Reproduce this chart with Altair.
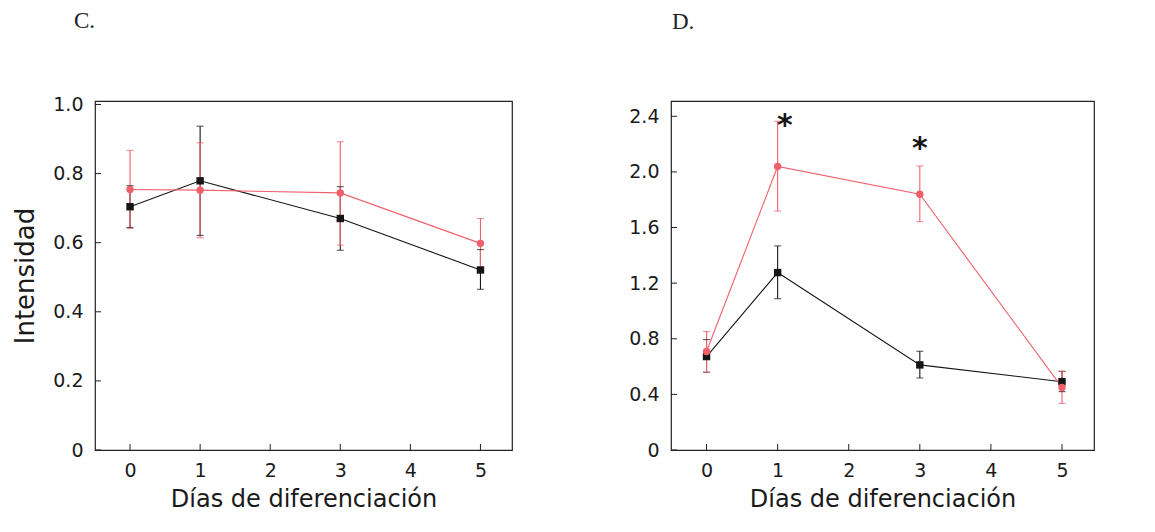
import altair as alt
import pandas as pd

days = [0, 1, 3, 5]

# Panel C
c_black = [0.704, 0.779, 0.670, 0.521]
c_black_lo = [0.644, 0.621, 0.578, 0.465]
c_black_hi = [0.765, 0.937, 0.762, 0.580]
c_red = [0.754, 0.752, 0.744, 0.598]
c_red_lo = [0.641, 0.614, 0.593, 0.526]
c_red_hi = [0.867, 0.889, 0.892, 0.670]

# Panel D
d_black = [0.672, 1.276, 0.612, 0.491]
d_black_lo = [0.559, 1.088, 0.518, 0.420]
d_black_hi = [0.794, 1.468, 0.710, 0.566]
d_red = [0.708, 2.039, 1.839, 0.450]
d_red_lo = [0.559, 1.718, 1.642, 0.335]
d_red_hi = [0.852, 2.364, 2.043, 0.566]

star_x = [1.1, 3.0]
star_y = [2.37, 2.21]

x_ticks = [0, 1, 2, 3, 4, 5]
c_y_ticks = [0, 0.2, 0.4, 0.6, 0.8, 1.0]
d_y_ticks = [0, 0.4, 0.8, 1.2, 1.6, 2.0, 2.4]

RED = "#f0343f"
RED_LINE = "#f0606c"
BLACK = "#151515"
LABEL_FONT = "DejaVu Sans"
TITLE_FONT = "DejaVu Sans"


def frame(b, bl, bh, r, rl, rh):
    rows = []
    for i, d in enumerate(days):
        rows.append(dict(day=d, v=b[i], lo=bl[i], hi=bh[i], s="control"))
        rows.append(dict(day=d, v=r[i], lo=rl[i], hi=rh[i], s="tratado"))
    return pd.DataFrame(rows)


def panel(df, ymax, yticks, letter, width, height, ytitle, show_stars, tdx, toff):
    xs = alt.Scale(domain=[-0.5, 5.45], nice=False, zero=False)
    ys = alt.Scale(domain=[0, ymax], nice=False)
    color = alt.Color("s:N", scale=alt.Scale(domain=["control", "tratado"], range=[BLACK, RED]), legend=None)
    line_color = alt.Color("s:N", scale=alt.Scale(domain=["control", "tratado"], range=[BLACK, RED_LINE]), legend=None)
    yaxis_kw = dict(
        values=yticks, ticks=False, grid=False, domain=False,
        labelFont=LABEL_FONT, labelFontSize=19, labelColor="#1a1a1a", labelPadding=12,
        labelExpr="datum.value == 0 ? '0' : format(datum.value, '.1f')",
    )
    if ytitle:
        yaxis = alt.Axis(title=ytitle, titleFont=TITLE_FONT, titleFontSize=26,
                         titleFontWeight="normal", titleColor="#1a1a1a", titlePadding=14, **yaxis_kw)
    else:
        yaxis = alt.Axis(title=None, **yaxis_kw)
    xaxis = alt.Axis(values=x_ticks, ticks=False, grid=False, domain=False, format="d",
                     labelFont=LABEL_FONT, labelFontSize=19, labelColor="#1a1a1a", labelPadding=11,
                     title="Días de diferenciación", titleFont=TITLE_FONT, titleFontSize=24,
                     titleFontWeight="normal", titleColor="#1a1a1a", titlePadding=7)

    def X(f):
        return alt.X(f, scale=xs, axis=xaxis, title="Días de diferenciación")

    def Y(f):
        return alt.Y(f, scale=ys, axis=yaxis, title=ytitle if ytitle else None)

    base = alt.Chart(df)
    lines = base.mark_line(strokeWidth=1.1).encode(
        x=X("day:Q"), y=Y("v:Q"), color=line_color, detail="s:N",
    )
    bars = base.mark_rule(strokeWidth=1.1).encode(
        x=X("day:Q"), y=Y("lo:Q"), y2="hi:Q", color=color
    )
    caps_lo = base.mark_tick(orient="horizontal", size=7, thickness=1.1).encode(
        x=X("day:Q"), y=Y("lo:Q"), color=color
    )
    caps_hi = base.mark_tick(orient="horizontal", size=7, thickness=1.1).encode(
        x=X("day:Q"), y=Y("hi:Q"), color=color
    )
    pts = base.mark_point(filled=True, opacity=1, size=55).encode(
        x=X("day:Q"), y=Y("v:Q"), color=color,
        shape=alt.Shape("s:N", scale=alt.Scale(domain=["control", "tratado"], range=["square", "circle"]), legend=None),
    )
    xt = alt.Chart(pd.DataFrame({"t": x_ticks})).mark_rule(color="#222", strokeWidth=1).encode(
        x=X("t:Q"), y=alt.value(height), y2=alt.value(height - 6)
    )
    yt = alt.Chart(pd.DataFrame({"t": yticks})).mark_rule(color="#222", strokeWidth=1).encode(
        y=Y("t:Q"), x=alt.value(0), x2=alt.value(6)
    )
    layers = [lines, xt, yt, bars, caps_lo, caps_hi, pts]
    if show_stars:
        stars = alt.Chart(pd.DataFrame({"x": star_x, "y": star_y, "t": ["*", "*"]})).mark_text(
            font="DejaVu Sans", fontSize=30, fontWeight="bold", color=BLACK, baseline="middle", dy=6
        ).encode(x=X("x:Q"), y=Y("y:Q"), text="t:N")
        layers.append(stars)
    return alt.layer(*layers).properties(
        width=width, height=height,
        title=alt.TitleParams(letter, anchor="start", frame="group", dx=tdx,
                              font="Liberation Serif", fontSize=23, fontWeight="normal",
                              color="#222", offset=toff),
    )


df_c = frame(c_black, c_black_lo, c_black_hi, c_red, c_red_lo, c_red_hi)
df_d = frame(d_black, d_black_lo, d_black_hi, d_red, d_red_lo, d_red_hi)

left = panel(df_c, 1.01, c_y_ticks, "C.", 417, 349, "Intensidad", False, -21, 62)
right = panel(df_d, 2.51, d_y_ticks, "D.", 423, 349, None, True, 1, 67)

chart = alt.hconcat(left, right, spacing=115).configure(
    background="white",
    padding={"left": 4, "top": 1, "right": 5, "bottom": 5},
    view=alt.ViewConfig(stroke="#222", strokeWidth=1.2),
)

chart.save("out.html", embed_options={"renderer": "svg", "actions": False})
